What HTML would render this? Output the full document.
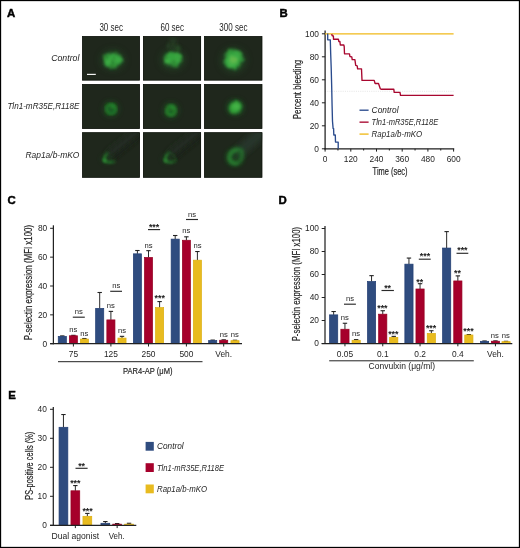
<!DOCTYPE html>
<html><head><meta charset="utf-8"><style>
html,body{margin:0;padding:0;background:#fff;width:520px;height:548px;overflow:hidden;}
svg{display:block;will-change:transform;}
text{font-family:"Liberation Sans",sans-serif;}
</style></head><body>
<svg width="520" height="548" viewBox="0 0 520 548" font-family="Liberation Sans">
<defs>
<filter id="f0" x="-60%" y="-60%" width="220%" height="220%"><feGaussianBlur stdDeviation="0.6"/></filter>
<filter id="f1" x="-60%" y="-60%" width="220%" height="220%"><feGaussianBlur stdDeviation="1.0"/></filter>
<filter id="f2" x="-60%" y="-60%" width="220%" height="220%"><feGaussianBlur stdDeviation="1.6"/></filter>
<filter id="f3" x="-60%" y="-60%" width="220%" height="220%"><feGaussianBlur stdDeviation="2.4"/></filter>
<filter id="f4" x="-60%" y="-60%" width="220%" height="220%"><feGaussianBlur stdDeviation="3.6"/></filter>
</defs>
<rect x="0" y="0" width="520" height="548" fill="#fff"/>
<text x="7.00" y="17.00" font-size="11.4" text-anchor="start" font-weight="bold" font-style="normal" fill="#000" stroke="#000" stroke-width="0.45">A</text>
<text x="279.40" y="17.00" font-size="11.4" text-anchor="start" font-weight="bold" font-style="normal" fill="#000" stroke="#000" stroke-width="0.45">B</text>
<text x="7.40" y="203.80" font-size="11.4" text-anchor="start" font-weight="bold" font-style="normal" fill="#000" stroke="#000" stroke-width="0.45">C</text>
<text x="278.40" y="203.80" font-size="11.4" text-anchor="start" font-weight="bold" font-style="normal" fill="#000" stroke="#000" stroke-width="0.45">D</text>
<text x="8.30" y="399.00" font-size="11.4" text-anchor="start" font-weight="bold" font-style="normal" fill="#000" stroke="#000" stroke-width="0.45">E</text>
<text x="111.20" y="30.70" font-size="10.3" text-anchor="middle" font-weight="normal" font-style="normal" fill="#1e1e1e" textLength="23.6" lengthAdjust="spacingAndGlyphs" >30 sec</text>
<text x="172.25" y="30.70" font-size="10.3" text-anchor="middle" font-weight="normal" font-style="normal" fill="#1e1e1e" textLength="23.6" lengthAdjust="spacingAndGlyphs" >60 sec</text>
<text x="233.40" y="30.70" font-size="10.3" text-anchor="middle" font-weight="normal" font-style="normal" fill="#1e1e1e" textLength="28.2" lengthAdjust="spacingAndGlyphs" >300 sec</text>
<text x="79.40" y="61.00" font-size="8.8" text-anchor="end" font-weight="normal" font-style="italic" fill="#1e1e1e" textLength="28.2" lengthAdjust="spacingAndGlyphs" >Control</text>
<text x="79.40" y="109.00" font-size="8.8" text-anchor="end" font-weight="normal" font-style="italic" fill="#1e1e1e" textLength="72" lengthAdjust="spacingAndGlyphs" >Tln1-mR35E,R118E</text>
<text x="79.40" y="157.50" font-size="8.8" text-anchor="end" font-weight="normal" font-style="italic" fill="#1e1e1e" textLength="54" lengthAdjust="spacingAndGlyphs" >Rap1a/b-mKO</text>
<defs>
<clipPath id="c0"><rect x="82.2" y="36.2" width="57.60" height="44.20"/></clipPath>
<clipPath id="c1"><rect x="82.2" y="84.2" width="57.60" height="44.60"/></clipPath>
<clipPath id="c2"><rect x="82.2" y="132.4" width="57.60" height="45.20"/></clipPath>
<clipPath id="c3"><rect x="143.1" y="36.2" width="57.90" height="44.20"/></clipPath>
<clipPath id="c4"><rect x="143.1" y="84.2" width="57.90" height="44.60"/></clipPath>
<clipPath id="c5"><rect x="143.1" y="132.4" width="57.90" height="45.20"/></clipPath>
<clipPath id="c6"><rect x="204.2" y="36.2" width="58.00" height="44.20"/></clipPath>
<clipPath id="c7"><rect x="204.2" y="84.2" width="58.00" height="44.60"/></clipPath>
<clipPath id="c8"><rect x="204.2" y="132.4" width="58.00" height="45.20"/></clipPath>
</defs>
<rect x="82.2" y="36.2" width="57.60" height="44.20" fill="#1f271c"/>
<rect x="82.2" y="84.2" width="57.60" height="44.60" fill="#1f271c"/>
<rect x="82.2" y="132.4" width="57.60" height="45.20" fill="#1f271c"/>
<rect x="143.1" y="36.2" width="57.90" height="44.20" fill="#1f271c"/>
<rect x="143.1" y="84.2" width="57.90" height="44.60" fill="#1f271c"/>
<rect x="143.1" y="132.4" width="57.90" height="45.20" fill="#1f271c"/>
<rect x="204.2" y="36.2" width="58.00" height="44.20" fill="#1f271c"/>
<rect x="204.2" y="84.2" width="58.00" height="44.60" fill="#1f271c"/>
<rect x="204.2" y="132.4" width="58.00" height="45.20" fill="#1f271c"/>
<defs>
<filter id="r0" x="-30%" y="-30%" width="160%" height="160%"><feTurbulence type="fractalNoise" baseFrequency="0.14" numOctaves="2" seed="3" result="n"/><feDisplacementMap in="SourceGraphic" in2="n" scale="5" xChannelSelector="R" yChannelSelector="G"/><feGaussianBlur stdDeviation="0.9"/></filter>
<filter id="r1" x="-30%" y="-30%" width="160%" height="160%"><feTurbulence type="fractalNoise" baseFrequency="0.15" numOctaves="2" seed="7" result="n"/><feDisplacementMap in="SourceGraphic" in2="n" scale="5" xChannelSelector="R" yChannelSelector="G"/><feGaussianBlur stdDeviation="0.9"/></filter>
<filter id="r2" x="-30%" y="-30%" width="160%" height="160%"><feTurbulence type="fractalNoise" baseFrequency="0.13" numOctaves="2" seed="11" result="n"/><feDisplacementMap in="SourceGraphic" in2="n" scale="5" xChannelSelector="R" yChannelSelector="G"/><feGaussianBlur stdDeviation="0.9"/></filter>
<filter id="r3" x="-30%" y="-30%" width="160%" height="160%"><feTurbulence type="fractalNoise" baseFrequency="0.18" numOctaves="2" seed="5" result="n"/><feDisplacementMap in="SourceGraphic" in2="n" scale="2.5" xChannelSelector="R" yChannelSelector="G"/><feGaussianBlur stdDeviation="0.9"/></filter>
</defs>
<g clip-path="url(#c0)"><g><ellipse cx="112.7" cy="60.0" rx="12" ry="10" fill="#25582a" opacity="0.5" filter="url(#f4)"/></g></g>
<g clip-path="url(#c0)"><g filter="url(#r0)"><ellipse cx="112.5" cy="59.8" rx="9.4" ry="7.6" fill="#309238" opacity="1" filter="url(#f1)"/><ellipse cx="109.5" cy="61.8" rx="5.0" ry="4.8" fill="#3cae44" opacity="0.9" filter="url(#f1)"/><ellipse cx="116.5" cy="58.8" rx="4.6" ry="4.8" fill="#3aa942" opacity="0.9" filter="url(#f1)"/><ellipse cx="112" cy="55.5" rx="4" ry="3" fill="#37a53f" opacity="0.8" filter="url(#f1)"/><ellipse cx="112.3" cy="63.5" rx="1.6" ry="3.5" fill="#226a28" opacity="0.6" filter="url(#f1)"/><ellipse cx="114" cy="58" rx="1.5" ry="1.5" fill="#26722c" opacity="0.5" filter="url(#f0)"/><ellipse cx="107" cy="57" rx="1.3" ry="1.3" fill="#24702a" opacity="0.5" filter="url(#f0)"/><ellipse cx="118" cy="63" rx="1.5" ry="1.2" fill="#24702a" opacity="0.5" filter="url(#f0)"/></g></g>
<g clip-path="url(#c3)"><g><ellipse cx="172.9" cy="59.6" rx="12" ry="10" fill="#25582a" opacity="0.5" filter="url(#f4)"/><ellipse cx="173" cy="44" rx="3" ry="9" fill="#2b4a29" opacity="0.7" filter="url(#f3)"/><ellipse cx="178" cy="49" rx="2.5" ry="4" fill="#2c5a2b" opacity="0.6" filter="url(#f2)"/><ellipse cx="168" cy="46" rx="1.5" ry="3" fill="#2b4e29" opacity="0.6" filter="url(#f2)"/></g></g>
<g clip-path="url(#c3)"><g filter="url(#r1)"><ellipse cx="172.6" cy="59.4" rx="9.6" ry="7.2" fill="#309238" opacity="1" filter="url(#f1)"/><ellipse cx="169.5" cy="60.6" rx="5.0" ry="4.4" fill="#3cae44" opacity="0.9" filter="url(#f1)"/><ellipse cx="176.5" cy="58" rx="4.4" ry="4.4" fill="#3aa942" opacity="0.9" filter="url(#f1)"/><ellipse cx="172" cy="55" rx="3.5" ry="2.5" fill="#37a53f" opacity="0.8" filter="url(#f1)"/><ellipse cx="173" cy="62" rx="1.5" ry="2.6" fill="#226a28" opacity="0.5" filter="url(#f1)"/><ellipse cx="167" cy="58" rx="1.2" ry="1.5" fill="#24702a" opacity="0.5" filter="url(#f0)"/></g></g>
<g clip-path="url(#c6)"><g><ellipse cx="233.5" cy="60.2" rx="12.5" ry="12" fill="#25582a" opacity="0.5" filter="url(#f4)"/></g></g>
<g clip-path="url(#c6)"><g filter="url(#r2)"><ellipse cx="233.5" cy="59.3" rx="9.8" ry="9.8" fill="#33993b" opacity="1" filter="url(#f1)"/><ellipse cx="232.5" cy="60" rx="6.0" ry="6.2" fill="#44b44a" opacity="0.9" filter="url(#f1)"/><ellipse cx="236" cy="55.5" rx="4" ry="4" fill="#3fae46" opacity="0.8" filter="url(#f1)"/><ellipse cx="233.5" cy="59.5" rx="3.6" ry="3.6" fill="#72bc50" opacity="0.7" filter="url(#f1)"/></g></g>
<g clip-path="url(#c1)"><g><ellipse cx="111" cy="109" rx="8.2" ry="8" fill="#1e5423" opacity="0.6" filter="url(#f3)"/></g></g>
<g clip-path="url(#c1)"><g filter="url(#r3)"><circle cx="111" cy="109" r="4.3" fill="none" stroke="#23812b" stroke-width="3.2" filter="url(#f1)"/><ellipse cx="111" cy="109" rx="2.6" ry="2.6" fill="#1f6425" opacity="0.9" filter="url(#f1)"/><ellipse cx="112.8" cy="106.5" rx="2.2" ry="1.8" fill="#2a9532" opacity="0.7" filter="url(#f1)"/></g></g>
<g clip-path="url(#c4)"><g><ellipse cx="171" cy="110.4" rx="8.2" ry="8.2" fill="#1e5423" opacity="0.6" filter="url(#f3)"/></g></g>
<g clip-path="url(#c4)"><g filter="url(#r3)"><ellipse cx="171" cy="110.4" rx="4.1" ry="4.5" fill="none" stroke="#258a2d" stroke-width="3.2" filter="url(#f1)"/><ellipse cx="171.3" cy="110.3" rx="2.4" ry="2.8" fill="#216a27" opacity="0.85" filter="url(#f1)"/><ellipse cx="172.5" cy="108" rx="2.2" ry="1.8" fill="#2d9a35" opacity="0.7" filter="url(#f1)"/></g></g>
<g clip-path="url(#c7)"><g><ellipse cx="235.3" cy="107.4" rx="8.8" ry="8.2" fill="#1e5423" opacity="0.7" filter="url(#f3)"/></g></g>
<g clip-path="url(#c7)"><g filter="url(#r3)"><ellipse cx="235.3" cy="107.4" rx="6.8" ry="5.8" fill="#31a139" opacity="1" filter="url(#f1)" transform="rotate(-40 235.3 107.4)"/><ellipse cx="236" cy="106.5" rx="3.8" ry="3.2" fill="#4cb84c" opacity="0.8" filter="url(#f1)"/></g></g>
<g clip-path="url(#c2)"><line x1="110" y1="154" x2="150" y2="122" stroke="#232c20" stroke-width="9" stroke-linecap="round" filter="url(#f3)" opacity="1"/></g>
<g clip-path="url(#c2)"><line x1="114" y1="158" x2="150" y2="129" stroke="#1a2118" stroke-width="4" stroke-linecap="round" filter="url(#f2)" opacity="0.8"/></g>
<g clip-path="url(#c5)"><line x1="171" y1="154" x2="211" y2="122" stroke="#232c20" stroke-width="9" stroke-linecap="round" filter="url(#f3)" opacity="1"/></g>
<g clip-path="url(#c5)"><line x1="175" y1="158" x2="211" y2="129" stroke="#1a2118" stroke-width="4" stroke-linecap="round" filter="url(#f2)" opacity="0.8"/></g>
<g clip-path="url(#c8)"><line x1="238" y1="153" x2="276" y2="120" stroke="#28362a" stroke-width="12" stroke-linecap="round" filter="url(#f3)" opacity="1"/></g>
<g opacity="0.82">
<g clip-path="url(#c2)"><g><ellipse cx="107" cy="159" rx="6" ry="5" fill="#1e4a21" opacity="0.5" filter="url(#f3)"/><path d="M107.6,152.8 Q103.2,157.5 104.2,160.6 Q106.5,163.2 114.6,161.8" fill="none" stroke="#247d2c" stroke-width="1.9" stroke-linecap="round" stroke-linejoin="round" filter="url(#f2)" opacity="1"/><path d="M106,155 Q103.5,158 104.4,160.8 Q107,162.8 111,162.3" fill="none" stroke="#2b8f33" stroke-width="1.4" stroke-linecap="round" stroke-linejoin="round" filter="url(#f1)" opacity="0.7"/><ellipse cx="104.8" cy="160.4" rx="2.0" ry="2.2" fill="#32a03a" opacity="0.8" filter="url(#f1)"/></g></g>
<g clip-path="url(#c5)"><g><ellipse cx="168" cy="159" rx="6" ry="5" fill="#1e4a21" opacity="0.5" filter="url(#f3)"/><path d="M168.8,152.4 Q164.2,157.5 165.2,160.8 Q167.5,163.3 175.8,161.2" fill="none" stroke="#247d2c" stroke-width="1.9" stroke-linecap="round" stroke-linejoin="round" filter="url(#f2)" opacity="1"/><path d="M167.2,154.5 Q164.5,158 165.4,161 Q168,163 172,162.6" fill="none" stroke="#2b8f33" stroke-width="1.4" stroke-linecap="round" stroke-linejoin="round" filter="url(#f1)" opacity="0.7"/><path d="M168.8,152.4 Q174,153.5 176,160" fill="none" stroke="#24642a" stroke-width="1.3" stroke-linecap="round" stroke-linejoin="round" filter="url(#f1)" opacity="0.6"/><ellipse cx="165.8" cy="160.4" rx="2.0" ry="2.2" fill="#309a38" opacity="0.7" filter="url(#f1)"/></g></g>
<g clip-path="url(#c8)"><g><ellipse cx="234.5" cy="157.5" rx="8.5" ry="8" fill="#1f5223" opacity="0.6" filter="url(#f3)"/><path d="M241.5,150.5 C236,147.8 228.6,151 229,157.6 C229.4,163 234.4,164.8 238.2,162.8 C241.6,160.8 242.6,155.5 241.5,150.5 Z" fill="none" stroke="#247a2b" stroke-width="3.4" stroke-linecap="round" stroke-linejoin="round" filter="url(#f3)" opacity="0.9"/><path d="M241.5,150.5 C236,147.8 228.6,151 229,157.6 C229.4,163 234.4,164.8 238.2,162.8 C241.6,160.8 242.6,155.5 241.5,150.5 Z" fill="none" stroke="#278230" stroke-width="2.4" stroke-linecap="round" stroke-linejoin="round" filter="url(#f2)" opacity="0.8"/><path d="M236.5,150.3 Q230.2,151.5 229.6,158 Q230.4,163.6 236.8,163.4" fill="none" stroke="#2f9637" stroke-width="2.4" stroke-linecap="round" stroke-linejoin="round" filter="url(#f2)" opacity="0.8"/><ellipse cx="236.2" cy="156.8" rx="2.8" ry="3.0" fill="#213621" opacity="0.5" filter="url(#f2)"/></g></g>
</g>
<rect x="82.5" y="36.5" width="57.00" height="43.60" fill="none" stroke="#10150f" stroke-width="0.7"/>
<rect x="82.5" y="84.5" width="57.00" height="44.00" fill="none" stroke="#10150f" stroke-width="0.7"/>
<rect x="82.5" y="132.70000000000002" width="57.00" height="44.60" fill="none" stroke="#10150f" stroke-width="0.7"/>
<rect x="143.4" y="36.5" width="57.30" height="43.60" fill="none" stroke="#10150f" stroke-width="0.7"/>
<rect x="143.4" y="84.5" width="57.30" height="44.00" fill="none" stroke="#10150f" stroke-width="0.7"/>
<rect x="143.4" y="132.70000000000002" width="57.30" height="44.60" fill="none" stroke="#10150f" stroke-width="0.7"/>
<rect x="204.5" y="36.5" width="57.40" height="43.60" fill="none" stroke="#10150f" stroke-width="0.7"/>
<rect x="204.5" y="84.5" width="57.40" height="44.00" fill="none" stroke="#10150f" stroke-width="0.7"/>
<rect x="204.5" y="132.70000000000002" width="57.40" height="44.60" fill="none" stroke="#10150f" stroke-width="0.7"/>
<line x1="87.00" y1="74.40" x2="95.80" y2="74.40" stroke="#f2f2f2" stroke-width="1.2" />
<line x1="325.1" y1="91.30" x2="453.60" y2="91.30" stroke="#d4d4d4" stroke-width="0.6" stroke-dasharray="1 1.2"/>
<line x1="325.10" y1="30.40" x2="325.10" y2="149.40" stroke="#1e1e1e" stroke-width="1.25" />
<line x1="324.50" y1="148.80" x2="454.20" y2="148.80" stroke="#1e1e1e" stroke-width="1.25" />
<line x1="321.90" y1="148.80" x2="325.10" y2="148.80" stroke="#1e1e1e" stroke-width="1" />
<text x="319.00" y="151.60" font-size="9.4" text-anchor="end" font-weight="normal" font-style="normal" fill="#1e1e1e" textLength="4.65" lengthAdjust="spacingAndGlyphs" >0</text>
<line x1="321.90" y1="125.80" x2="325.10" y2="125.80" stroke="#1e1e1e" stroke-width="1" />
<text x="319.00" y="128.60" font-size="9.4" text-anchor="end" font-weight="normal" font-style="normal" fill="#1e1e1e" textLength="9.3" lengthAdjust="spacingAndGlyphs" >20</text>
<line x1="321.90" y1="102.80" x2="325.10" y2="102.80" stroke="#1e1e1e" stroke-width="1" />
<text x="319.00" y="105.60" font-size="9.4" text-anchor="end" font-weight="normal" font-style="normal" fill="#1e1e1e" textLength="9.3" lengthAdjust="spacingAndGlyphs" >40</text>
<line x1="321.90" y1="79.80" x2="325.10" y2="79.80" stroke="#1e1e1e" stroke-width="1" />
<text x="319.00" y="82.60" font-size="9.4" text-anchor="end" font-weight="normal" font-style="normal" fill="#1e1e1e" textLength="9.3" lengthAdjust="spacingAndGlyphs" >60</text>
<line x1="321.90" y1="56.80" x2="325.10" y2="56.80" stroke="#1e1e1e" stroke-width="1" />
<text x="319.00" y="59.60" font-size="9.4" text-anchor="end" font-weight="normal" font-style="normal" fill="#1e1e1e" textLength="9.3" lengthAdjust="spacingAndGlyphs" >80</text>
<line x1="321.90" y1="33.80" x2="325.10" y2="33.80" stroke="#1e1e1e" stroke-width="1" />
<text x="319.00" y="36.60" font-size="9.4" text-anchor="end" font-weight="normal" font-style="normal" fill="#1e1e1e" textLength="13.95" lengthAdjust="spacingAndGlyphs" >100</text>
<line x1="325.10" y1="148.80" x2="325.10" y2="151.60" stroke="#1e1e1e" stroke-width="1" />
<text x="325.10" y="161.80" font-size="9.4" text-anchor="middle" font-weight="normal" font-style="normal" fill="#1e1e1e" textLength="4.65" lengthAdjust="spacingAndGlyphs" >0</text>
<line x1="337.95" y1="148.80" x2="337.95" y2="150.50" stroke="#1e1e1e" stroke-width="1" />
<line x1="350.80" y1="148.80" x2="350.80" y2="151.60" stroke="#1e1e1e" stroke-width="1" />
<text x="350.80" y="161.80" font-size="9.4" text-anchor="middle" font-weight="normal" font-style="normal" fill="#1e1e1e" textLength="13.95" lengthAdjust="spacingAndGlyphs" >120</text>
<line x1="363.65" y1="148.80" x2="363.65" y2="150.50" stroke="#1e1e1e" stroke-width="1" />
<line x1="376.50" y1="148.80" x2="376.50" y2="151.60" stroke="#1e1e1e" stroke-width="1" />
<text x="376.50" y="161.80" font-size="9.4" text-anchor="middle" font-weight="normal" font-style="normal" fill="#1e1e1e" textLength="13.95" lengthAdjust="spacingAndGlyphs" >240</text>
<line x1="389.35" y1="148.80" x2="389.35" y2="150.50" stroke="#1e1e1e" stroke-width="1" />
<line x1="402.20" y1="148.80" x2="402.20" y2="151.60" stroke="#1e1e1e" stroke-width="1" />
<text x="402.20" y="161.80" font-size="9.4" text-anchor="middle" font-weight="normal" font-style="normal" fill="#1e1e1e" textLength="13.95" lengthAdjust="spacingAndGlyphs" >360</text>
<line x1="415.05" y1="148.80" x2="415.05" y2="150.50" stroke="#1e1e1e" stroke-width="1" />
<line x1="427.90" y1="148.80" x2="427.90" y2="151.60" stroke="#1e1e1e" stroke-width="1" />
<text x="427.90" y="161.80" font-size="9.4" text-anchor="middle" font-weight="normal" font-style="normal" fill="#1e1e1e" textLength="13.95" lengthAdjust="spacingAndGlyphs" >480</text>
<line x1="440.75" y1="148.80" x2="440.75" y2="150.50" stroke="#1e1e1e" stroke-width="1" />
<line x1="453.60" y1="148.80" x2="453.60" y2="151.60" stroke="#1e1e1e" stroke-width="1" />
<text x="453.60" y="161.80" font-size="9.4" text-anchor="middle" font-weight="normal" font-style="normal" fill="#1e1e1e" textLength="13.95" lengthAdjust="spacingAndGlyphs" >600</text>
<text x="390.10" y="175.40" font-size="10.0" text-anchor="middle" font-weight="normal" font-style="normal" fill="#1e1e1e" textLength="35" lengthAdjust="spacingAndGlyphs" stroke="#1e1e1e" stroke-width="0.18">Time (sec)</text>
<g transform="translate(300.6,89.5) rotate(-90)"><text x="0.00" y="0.00" font-size="10.4" text-anchor="middle" font-weight="normal" font-style="normal" fill="#1e1e1e" textLength="59.5" lengthAdjust="spacingAndGlyphs" stroke="#1e1e1e" stroke-width="0.18">Percent bleeding</text></g>
<polyline points="325.1,33.80 453.6,33.80" fill="none" stroke="#f0b91a" stroke-width="1.35"/>
<polyline points="331.7,34.0 332.2,35.8 333.4,35.8 333.5,39.2 338.4,39.2 338.8,41.5 339.9,41.5 340.3,45.0 343.8,45.0 344.2,46.5 344.5,53.8 349.5,53.8 349.9,56.5 351.8,56.9 352.2,59.6 354.9,59.6 355.7,65.4 357.2,65.8 357.6,68.8 361.5,68.8 362.0,80.4 374.2,80.4 375.1,83.5 378.5,83.5 380.3,88.8 381.2,89.2 393.8,89.2 394.2,92.3 400.0,92.3 400.5,95.4 453.6,95.4" fill="none" stroke="#a8072f" stroke-width="1.35" stroke-linejoin="round"/>
<polyline points="327.7,33.6 327.7,39.8 330.3,39.8 330.7,53.9 331.2,67.9 331.7,87.1 332.1,106 332.5,121.3 333.1,128.4 333.6,128.4 333.8,135 335.3,135 335.5,142.1 338.2,142.1 338.2,148.7" fill="none" stroke="#2a4b8d" stroke-width="1.35" stroke-linejoin="round"/>
<line x1="359.50" y1="110.20" x2="368.60" y2="110.20" stroke="#2a4b8d" stroke-width="1.35" />
<text x="371.60" y="113.10" font-size="8.6" text-anchor="start" font-weight="normal" font-style="italic" fill="#1e1e1e" textLength="27" lengthAdjust="spacingAndGlyphs" >Control</text>
<line x1="359.50" y1="122.15" x2="368.60" y2="122.15" stroke="#a8072f" stroke-width="1.35" />
<text x="371.60" y="125.05" font-size="8.6" text-anchor="start" font-weight="normal" font-style="italic" fill="#1e1e1e" textLength="66.6" lengthAdjust="spacingAndGlyphs" >Tln1-mR35E,R118E</text>
<line x1="359.50" y1="134.10" x2="368.60" y2="134.10" stroke="#f0b91a" stroke-width="1.35" />
<text x="371.60" y="137.00" font-size="8.6" text-anchor="start" font-weight="normal" font-style="italic" fill="#1e1e1e" textLength="50.6" lengthAdjust="spacingAndGlyphs" >Rap1a/b-mKO</text>
<line x1="62.30" y1="336.34" x2="62.30" y2="335.91" stroke="#2a2a2a" stroke-width="1.0" />
<line x1="60.10" y1="335.91" x2="64.50" y2="335.91" stroke="#222" stroke-width="1.1" />
<rect x="58.25" y="336.34" width="8.10" height="7.36" fill="#2f4c7f" stroke="#213d72" stroke-width="0.7"/>
<line x1="73.40" y1="335.77" x2="73.40" y2="335.33" stroke="#2a2a2a" stroke-width="1.0" />
<line x1="71.20" y1="335.33" x2="75.60" y2="335.33" stroke="#222" stroke-width="1.1" />
<rect x="69.35" y="335.77" width="8.10" height="7.93" fill="#a6002b" stroke="#950021" stroke-width="0.7"/>
<line x1="84.40" y1="339.08" x2="84.40" y2="338.51" stroke="#2a2a2a" stroke-width="1.0" />
<line x1="82.20" y1="338.51" x2="86.60" y2="338.51" stroke="#222" stroke-width="1.1" />
<rect x="80.35" y="339.08" width="8.10" height="4.62" fill="#e8bb1f" stroke="#dcae10" stroke-width="0.7"/>
<line x1="99.70" y1="308.36" x2="99.70" y2="292.49" stroke="#2a2a2a" stroke-width="1.0" />
<line x1="97.50" y1="292.49" x2="101.90" y2="292.49" stroke="#222" stroke-width="1.1" />
<rect x="95.65" y="308.36" width="8.10" height="35.34" fill="#2f4c7f" stroke="#213d72" stroke-width="0.7"/>
<line x1="110.90" y1="319.90" x2="110.90" y2="311.39" stroke="#2a2a2a" stroke-width="1.0" />
<line x1="108.70" y1="311.39" x2="113.10" y2="311.39" stroke="#222" stroke-width="1.1" />
<rect x="106.85" y="319.90" width="8.10" height="23.80" fill="#a6002b" stroke="#950021" stroke-width="0.7"/>
<line x1="122.00" y1="338.07" x2="122.00" y2="336.34" stroke="#2a2a2a" stroke-width="1.0" />
<line x1="119.80" y1="336.34" x2="124.20" y2="336.34" stroke="#222" stroke-width="1.1" />
<rect x="117.95" y="338.07" width="8.10" height="5.63" fill="#e8bb1f" stroke="#dcae10" stroke-width="0.7"/>
<line x1="137.40" y1="253.83" x2="137.40" y2="250.51" stroke="#2a2a2a" stroke-width="1.0" />
<line x1="135.20" y1="250.51" x2="139.60" y2="250.51" stroke="#222" stroke-width="1.1" />
<rect x="133.35" y="253.83" width="8.10" height="89.87" fill="#2f4c7f" stroke="#213d72" stroke-width="0.7"/>
<line x1="148.50" y1="257.44" x2="148.50" y2="250.66" stroke="#2a2a2a" stroke-width="1.0" />
<line x1="146.30" y1="250.66" x2="150.70" y2="250.66" stroke="#222" stroke-width="1.1" />
<rect x="144.45" y="257.44" width="8.10" height="86.26" fill="#a6002b" stroke="#950021" stroke-width="0.7"/>
<line x1="159.60" y1="307.64" x2="159.60" y2="301.58" stroke="#2a2a2a" stroke-width="1.0" />
<line x1="157.40" y1="301.58" x2="161.80" y2="301.58" stroke="#222" stroke-width="1.1" />
<rect x="155.55" y="307.64" width="8.10" height="36.06" fill="#e8bb1f" stroke="#dcae10" stroke-width="0.7"/>
<line x1="175.20" y1="239.12" x2="175.20" y2="235.51" stroke="#2a2a2a" stroke-width="1.0" />
<line x1="173.00" y1="235.51" x2="177.40" y2="235.51" stroke="#222" stroke-width="1.1" />
<rect x="171.15" y="239.12" width="8.10" height="104.58" fill="#2f4c7f" stroke="#213d72" stroke-width="0.7"/>
<line x1="186.40" y1="240.27" x2="186.40" y2="236.81" stroke="#2a2a2a" stroke-width="1.0" />
<line x1="184.20" y1="236.81" x2="188.60" y2="236.81" stroke="#222" stroke-width="1.1" />
<rect x="182.35" y="240.27" width="8.10" height="103.43" fill="#a6002b" stroke="#950021" stroke-width="0.7"/>
<line x1="197.40" y1="260.18" x2="197.40" y2="251.52" stroke="#2a2a2a" stroke-width="1.0" />
<line x1="195.20" y1="251.52" x2="199.60" y2="251.52" stroke="#222" stroke-width="1.1" />
<rect x="193.35" y="260.18" width="8.10" height="83.52" fill="#e8bb1f" stroke="#dcae10" stroke-width="0.7"/>
<line x1="212.70" y1="340.53" x2="212.70" y2="340.09" stroke="#2a2a2a" stroke-width="1.0" />
<line x1="210.50" y1="340.09" x2="214.90" y2="340.09" stroke="#222" stroke-width="1.1" />
<rect x="208.65" y="340.53" width="8.10" height="3.17" fill="#2f4c7f" stroke="#213d72" stroke-width="0.7"/>
<line x1="223.70" y1="340.24" x2="223.70" y2="339.81" stroke="#2a2a2a" stroke-width="1.0" />
<line x1="221.50" y1="339.81" x2="225.90" y2="339.81" stroke="#222" stroke-width="1.1" />
<rect x="219.65" y="340.24" width="8.10" height="3.46" fill="#a6002b" stroke="#950021" stroke-width="0.7"/>
<line x1="235.00" y1="340.67" x2="235.00" y2="340.24" stroke="#2a2a2a" stroke-width="1.0" />
<line x1="232.80" y1="340.24" x2="237.20" y2="340.24" stroke="#222" stroke-width="1.1" />
<rect x="230.95" y="340.67" width="8.10" height="3.03" fill="#e8bb1f" stroke="#dcae10" stroke-width="0.7"/>
<line x1="53.40" y1="225.30" x2="53.40" y2="344.30" stroke="#222" stroke-width="1.25" />
<line x1="50.10" y1="343.70" x2="242.00" y2="343.70" stroke="#222" stroke-width="1.25" />
<line x1="50.10" y1="343.70" x2="53.40" y2="343.70" stroke="#222" stroke-width="1" />
<text x="47.20" y="346.50" font-size="9.4" text-anchor="end" font-weight="normal" font-style="normal" fill="#1e1e1e" textLength="4.65" lengthAdjust="spacingAndGlyphs" >0</text>
<line x1="50.10" y1="314.85" x2="53.40" y2="314.85" stroke="#222" stroke-width="1" />
<text x="47.20" y="317.65" font-size="9.4" text-anchor="end" font-weight="normal" font-style="normal" fill="#1e1e1e" textLength="9.3" lengthAdjust="spacingAndGlyphs" >20</text>
<line x1="50.10" y1="286.00" x2="53.40" y2="286.00" stroke="#222" stroke-width="1" />
<text x="47.20" y="288.80" font-size="9.4" text-anchor="end" font-weight="normal" font-style="normal" fill="#1e1e1e" textLength="9.3" lengthAdjust="spacingAndGlyphs" >40</text>
<line x1="50.10" y1="257.15" x2="53.40" y2="257.15" stroke="#222" stroke-width="1" />
<text x="47.20" y="259.95" font-size="9.4" text-anchor="end" font-weight="normal" font-style="normal" fill="#1e1e1e" textLength="9.3" lengthAdjust="spacingAndGlyphs" >60</text>
<line x1="50.10" y1="228.30" x2="53.40" y2="228.30" stroke="#222" stroke-width="1" />
<text x="47.20" y="231.10" font-size="9.4" text-anchor="end" font-weight="normal" font-style="normal" fill="#1e1e1e" textLength="9.3" lengthAdjust="spacingAndGlyphs" >80</text>
<line x1="73.40" y1="343.70" x2="73.40" y2="346.50" stroke="#222" stroke-width="1" />
<text x="73.40" y="357.20" font-size="8.4" text-anchor="middle" font-weight="normal" font-style="normal" fill="#1e1e1e" >75</text>
<line x1="110.90" y1="343.70" x2="110.90" y2="346.50" stroke="#222" stroke-width="1" />
<text x="110.90" y="357.20" font-size="8.4" text-anchor="middle" font-weight="normal" font-style="normal" fill="#1e1e1e" >125</text>
<line x1="148.50" y1="343.70" x2="148.50" y2="346.50" stroke="#222" stroke-width="1" />
<text x="148.50" y="357.20" font-size="8.4" text-anchor="middle" font-weight="normal" font-style="normal" fill="#1e1e1e" >250</text>
<line x1="186.40" y1="343.70" x2="186.40" y2="346.50" stroke="#222" stroke-width="1" />
<text x="186.40" y="357.20" font-size="8.4" text-anchor="middle" font-weight="normal" font-style="normal" fill="#1e1e1e" >500</text>
<line x1="223.70" y1="343.70" x2="223.70" y2="346.50" stroke="#222" stroke-width="1" />
<text x="223.70" y="357.20" font-size="8.4" text-anchor="middle" font-weight="normal" font-style="normal" fill="#1e1e1e" >Veh.</text>
<line x1="58.00" y1="361.70" x2="202.50" y2="361.70" stroke="#222" stroke-width="1.0" />
<text x="147.80" y="373.60" font-size="9.5" text-anchor="middle" font-weight="normal" font-style="normal" fill="#1e1e1e" textLength="49.5" lengthAdjust="spacingAndGlyphs" stroke="#1e1e1e" stroke-width="0.18">PAR4-AP (μM)</text>
<g transform="translate(32.1,282.6) rotate(-90)"><text x="0.00" y="0.00" font-size="10.4" text-anchor="middle" font-weight="normal" font-style="normal" fill="#1e1e1e" textLength="115.4" lengthAdjust="spacingAndGlyphs" stroke="#1e1e1e" stroke-width="0.18">P-selectin expression (MFI x100)</text></g>
<line x1="333.65" y1="314.87" x2="333.65" y2="311.53" stroke="#2a2a2a" stroke-width="1.0" />
<line x1="331.45" y1="311.53" x2="335.85" y2="311.53" stroke="#222" stroke-width="1.1" />
<rect x="329.55" y="314.87" width="8.20" height="28.63" fill="#2f4c7f" stroke="#213d72" stroke-width="0.7"/>
<line x1="344.95" y1="329.24" x2="344.95" y2="323.26" stroke="#2a2a2a" stroke-width="1.0" />
<line x1="342.75" y1="323.26" x2="347.15" y2="323.26" stroke="#222" stroke-width="1.1" />
<rect x="340.85" y="329.24" width="8.20" height="14.26" fill="#a6002b" stroke="#950021" stroke-width="0.7"/>
<line x1="356.15" y1="340.28" x2="356.15" y2="339.59" stroke="#2a2a2a" stroke-width="1.0" />
<line x1="353.95" y1="339.59" x2="358.35" y2="339.59" stroke="#222" stroke-width="1.1" />
<rect x="352.05" y="340.28" width="8.20" height="3.22" fill="#e8bb1f" stroke="#dcae10" stroke-width="0.7"/>
<line x1="371.55" y1="281.51" x2="371.55" y2="275.65" stroke="#2a2a2a" stroke-width="1.0" />
<line x1="369.35" y1="275.65" x2="373.75" y2="275.65" stroke="#222" stroke-width="1.1" />
<rect x="367.45" y="281.51" width="8.20" height="61.99" fill="#2f4c7f" stroke="#213d72" stroke-width="0.7"/>
<line x1="382.75" y1="314.18" x2="382.75" y2="310.73" stroke="#2a2a2a" stroke-width="1.0" />
<line x1="380.55" y1="310.73" x2="384.95" y2="310.73" stroke="#222" stroke-width="1.1" />
<rect x="378.65" y="314.18" width="8.20" height="29.32" fill="#a6002b" stroke="#950021" stroke-width="0.7"/>
<line x1="393.75" y1="337.40" x2="393.75" y2="336.37" stroke="#2a2a2a" stroke-width="1.0" />
<line x1="391.55" y1="336.37" x2="395.95" y2="336.37" stroke="#222" stroke-width="1.1" />
<rect x="389.65" y="337.40" width="8.20" height="6.10" fill="#e8bb1f" stroke="#dcae10" stroke-width="0.7"/>
<line x1="408.95" y1="264.15" x2="408.95" y2="258.06" stroke="#2a2a2a" stroke-width="1.0" />
<line x1="406.75" y1="258.06" x2="411.15" y2="258.06" stroke="#222" stroke-width="1.1" />
<rect x="404.85" y="264.15" width="8.20" height="79.35" fill="#2f4c7f" stroke="#213d72" stroke-width="0.7"/>
<line x1="420.05" y1="288.99" x2="420.05" y2="283.70" stroke="#2a2a2a" stroke-width="1.0" />
<line x1="417.85" y1="283.70" x2="422.25" y2="283.70" stroke="#222" stroke-width="1.1" />
<rect x="415.95" y="288.99" width="8.20" height="54.51" fill="#a6002b" stroke="#950021" stroke-width="0.7"/>
<line x1="431.35" y1="333.38" x2="431.35" y2="330.74" stroke="#2a2a2a" stroke-width="1.0" />
<line x1="429.15" y1="330.74" x2="433.55" y2="330.74" stroke="#222" stroke-width="1.1" />
<rect x="427.25" y="333.38" width="8.20" height="10.12" fill="#e8bb1f" stroke="#dcae10" stroke-width="0.7"/>
<line x1="446.65" y1="248.05" x2="446.65" y2="231.61" stroke="#2a2a2a" stroke-width="1.0" />
<line x1="444.45" y1="231.61" x2="448.85" y2="231.61" stroke="#222" stroke-width="1.1" />
<rect x="442.55" y="248.05" width="8.20" height="95.45" fill="#2f4c7f" stroke="#213d72" stroke-width="0.7"/>
<line x1="457.85" y1="280.94" x2="457.85" y2="275.88" stroke="#2a2a2a" stroke-width="1.0" />
<line x1="455.65" y1="275.88" x2="460.05" y2="275.88" stroke="#222" stroke-width="1.1" />
<rect x="453.75" y="280.94" width="8.20" height="62.56" fill="#a6002b" stroke="#950021" stroke-width="0.7"/>
<line x1="468.85" y1="334.99" x2="468.85" y2="334.53" stroke="#2a2a2a" stroke-width="1.0" />
<line x1="466.65" y1="334.53" x2="471.05" y2="334.53" stroke="#222" stroke-width="1.1" />
<rect x="464.75" y="334.99" width="8.20" height="8.51" fill="#e8bb1f" stroke="#dcae10" stroke-width="0.7"/>
<line x1="484.55" y1="341.31" x2="484.55" y2="340.97" stroke="#2a2a2a" stroke-width="1.0" />
<line x1="482.35" y1="340.97" x2="486.75" y2="340.97" stroke="#222" stroke-width="1.1" />
<rect x="480.45" y="341.31" width="8.20" height="2.19" fill="#2f4c7f" stroke="#213d72" stroke-width="0.7"/>
<line x1="495.45" y1="341.20" x2="495.45" y2="340.86" stroke="#2a2a2a" stroke-width="1.0" />
<line x1="493.25" y1="340.86" x2="497.65" y2="340.86" stroke="#222" stroke-width="1.1" />
<rect x="491.35" y="341.20" width="8.20" height="2.30" fill="#a6002b" stroke="#950021" stroke-width="0.7"/>
<line x1="506.05" y1="341.66" x2="506.05" y2="341.31" stroke="#2a2a2a" stroke-width="1.0" />
<line x1="503.85" y1="341.31" x2="508.25" y2="341.31" stroke="#222" stroke-width="1.1" />
<rect x="501.95" y="341.66" width="8.20" height="1.84" fill="#e8bb1f" stroke="#dcae10" stroke-width="0.7"/>
<line x1="325.00" y1="225.90" x2="325.00" y2="344.10" stroke="#222" stroke-width="1.25" />
<line x1="321.70" y1="343.50" x2="512.30" y2="343.50" stroke="#222" stroke-width="1.25" />
<line x1="321.70" y1="343.50" x2="325.00" y2="343.50" stroke="#222" stroke-width="1" />
<text x="319.00" y="346.30" font-size="9.4" text-anchor="end" font-weight="normal" font-style="normal" fill="#1e1e1e" textLength="4.65" lengthAdjust="spacingAndGlyphs" >0</text>
<line x1="321.70" y1="320.50" x2="325.00" y2="320.50" stroke="#222" stroke-width="1" />
<text x="319.00" y="323.30" font-size="9.4" text-anchor="end" font-weight="normal" font-style="normal" fill="#1e1e1e" textLength="9.3" lengthAdjust="spacingAndGlyphs" >20</text>
<line x1="321.70" y1="297.50" x2="325.00" y2="297.50" stroke="#222" stroke-width="1" />
<text x="319.00" y="300.30" font-size="9.4" text-anchor="end" font-weight="normal" font-style="normal" fill="#1e1e1e" textLength="9.3" lengthAdjust="spacingAndGlyphs" >40</text>
<line x1="321.70" y1="274.50" x2="325.00" y2="274.50" stroke="#222" stroke-width="1" />
<text x="319.00" y="277.30" font-size="9.4" text-anchor="end" font-weight="normal" font-style="normal" fill="#1e1e1e" textLength="9.3" lengthAdjust="spacingAndGlyphs" >60</text>
<line x1="321.70" y1="251.50" x2="325.00" y2="251.50" stroke="#222" stroke-width="1" />
<text x="319.00" y="254.30" font-size="9.4" text-anchor="end" font-weight="normal" font-style="normal" fill="#1e1e1e" textLength="9.3" lengthAdjust="spacingAndGlyphs" >80</text>
<line x1="321.70" y1="228.50" x2="325.00" y2="228.50" stroke="#222" stroke-width="1" />
<text x="319.00" y="231.30" font-size="9.4" text-anchor="end" font-weight="normal" font-style="normal" fill="#1e1e1e" textLength="13.95" lengthAdjust="spacingAndGlyphs" >100</text>
<line x1="344.95" y1="343.50" x2="344.95" y2="346.30" stroke="#222" stroke-width="1" />
<text x="344.95" y="357.10" font-size="8.4" text-anchor="middle" font-weight="normal" font-style="normal" fill="#1e1e1e" >0.05</text>
<line x1="382.75" y1="343.50" x2="382.75" y2="346.30" stroke="#222" stroke-width="1" />
<text x="382.75" y="357.10" font-size="8.4" text-anchor="middle" font-weight="normal" font-style="normal" fill="#1e1e1e" >0.1</text>
<line x1="420.05" y1="343.50" x2="420.05" y2="346.30" stroke="#222" stroke-width="1" />
<text x="420.05" y="357.10" font-size="8.4" text-anchor="middle" font-weight="normal" font-style="normal" fill="#1e1e1e" >0.2</text>
<line x1="457.85" y1="343.50" x2="457.85" y2="346.30" stroke="#222" stroke-width="1" />
<text x="457.85" y="357.10" font-size="8.4" text-anchor="middle" font-weight="normal" font-style="normal" fill="#1e1e1e" >0.4</text>
<line x1="495.45" y1="343.50" x2="495.45" y2="346.30" stroke="#222" stroke-width="1" />
<text x="495.45" y="357.10" font-size="8.4" text-anchor="middle" font-weight="normal" font-style="normal" fill="#1e1e1e" >Veh.</text>
<line x1="329.20" y1="360.80" x2="473.80" y2="360.80" stroke="#222" stroke-width="1.0" />
<text x="401.80" y="369.30" font-size="8.8" text-anchor="middle" font-weight="normal" font-style="normal" fill="#1e1e1e" textLength="66.5" lengthAdjust="spacingAndGlyphs" >Convulxin (μg/ml)</text>
<g transform="translate(299.7,284.1) rotate(-90)"><text x="0.00" y="0.00" font-size="10.4" text-anchor="middle" font-weight="normal" font-style="normal" fill="#1e1e1e" textLength="114.5" lengthAdjust="spacingAndGlyphs" stroke="#1e1e1e" stroke-width="0.18">P-selectin expression (MFI x100)</text></g>
<line x1="63.45" y1="427.28" x2="63.45" y2="414.52" stroke="#2a2a2a" stroke-width="1.0" />
<line x1="61.25" y1="414.52" x2="65.65" y2="414.52" stroke="#222" stroke-width="1.1" />
<rect x="59.05" y="427.28" width="8.80" height="98.02" fill="#2f4c7f" stroke="#213d72" stroke-width="0.7"/>
<line x1="75.35" y1="490.79" x2="75.35" y2="485.57" stroke="#2a2a2a" stroke-width="1.0" />
<line x1="73.15" y1="485.57" x2="77.55" y2="485.57" stroke="#222" stroke-width="1.1" />
<rect x="70.95" y="490.79" width="8.80" height="34.51" fill="#a6002b" stroke="#950021" stroke-width="0.7"/>
<line x1="87.35" y1="516.31" x2="87.35" y2="513.41" stroke="#2a2a2a" stroke-width="1.0" />
<line x1="85.15" y1="513.41" x2="89.55" y2="513.41" stroke="#222" stroke-width="1.1" />
<rect x="82.95" y="516.31" width="8.80" height="8.99" fill="#e8bb1f" stroke="#dcae10" stroke-width="0.7"/>
<line x1="105.35" y1="523.27" x2="105.35" y2="521.53" stroke="#2a2a2a" stroke-width="1.0" />
<line x1="103.15" y1="521.53" x2="107.55" y2="521.53" stroke="#222" stroke-width="1.1" />
<rect x="100.95" y="523.27" width="8.80" height="2.03" fill="#2f4c7f" stroke="#213d72" stroke-width="0.7"/>
<line x1="117.15" y1="524.14" x2="117.15" y2="523.56" stroke="#2a2a2a" stroke-width="1.0" />
<line x1="114.95" y1="523.56" x2="119.35" y2="523.56" stroke="#222" stroke-width="1.1" />
<rect x="112.75" y="524.14" width="8.80" height="1.16" fill="#a6002b" stroke="#950021" stroke-width="0.7"/>
<line x1="129.05" y1="524.14" x2="129.05" y2="523.27" stroke="#2a2a2a" stroke-width="1.0" />
<line x1="126.85" y1="523.27" x2="131.25" y2="523.27" stroke="#222" stroke-width="1.1" />
<rect x="124.65" y="524.14" width="8.80" height="1.16" fill="#e8bb1f" stroke="#dcae10" stroke-width="0.7"/>
<line x1="53.30" y1="407.10" x2="53.30" y2="525.90" stroke="#222" stroke-width="1.25" />
<line x1="50.00" y1="525.30" x2="136.30" y2="525.30" stroke="#222" stroke-width="1.25" />
<line x1="50.00" y1="525.30" x2="53.30" y2="525.30" stroke="#222" stroke-width="1" />
<text x="46.90" y="528.10" font-size="9.4" text-anchor="end" font-weight="normal" font-style="normal" fill="#1e1e1e" textLength="4.65" lengthAdjust="spacingAndGlyphs" >0</text>
<line x1="50.00" y1="496.30" x2="53.30" y2="496.30" stroke="#222" stroke-width="1" />
<text x="46.90" y="499.10" font-size="9.4" text-anchor="end" font-weight="normal" font-style="normal" fill="#1e1e1e" textLength="9.3" lengthAdjust="spacingAndGlyphs" >10</text>
<line x1="50.00" y1="467.30" x2="53.30" y2="467.30" stroke="#222" stroke-width="1" />
<text x="46.90" y="470.10" font-size="9.4" text-anchor="end" font-weight="normal" font-style="normal" fill="#1e1e1e" textLength="9.3" lengthAdjust="spacingAndGlyphs" >20</text>
<line x1="50.00" y1="438.30" x2="53.30" y2="438.30" stroke="#222" stroke-width="1" />
<text x="46.90" y="441.10" font-size="9.4" text-anchor="end" font-weight="normal" font-style="normal" fill="#1e1e1e" textLength="9.3" lengthAdjust="spacingAndGlyphs" >30</text>
<line x1="50.00" y1="409.30" x2="53.30" y2="409.30" stroke="#222" stroke-width="1" />
<text x="46.90" y="412.10" font-size="9.4" text-anchor="end" font-weight="normal" font-style="normal" fill="#1e1e1e" textLength="9.3" lengthAdjust="spacingAndGlyphs" >40</text>
<line x1="75.35" y1="525.30" x2="75.35" y2="528.10" stroke="#222" stroke-width="1" />
<line x1="117.15" y1="525.30" x2="117.15" y2="528.10" stroke="#222" stroke-width="1" />
<text x="75.40" y="538.60" font-size="8.6" text-anchor="middle" font-weight="normal" font-style="normal" fill="#1e1e1e" textLength="47.6" lengthAdjust="spacingAndGlyphs" >Dual agonist</text>
<text x="116.60" y="538.60" font-size="8.6" text-anchor="middle" font-weight="normal" font-style="normal" fill="#1e1e1e" textLength="15.8" lengthAdjust="spacingAndGlyphs" >Veh.</text>
<g transform="translate(33.4,465.8) rotate(-90)"><text x="0.00" y="0.00" font-size="10.2" text-anchor="middle" font-weight="normal" font-style="normal" fill="#1e1e1e" textLength="68" lengthAdjust="spacingAndGlyphs" stroke="#1e1e1e" stroke-width="0.18">PS-positive cells (%)</text></g>
<rect x="145.6" y="441.9" width="8.2" height="8.8" fill="#2f4c7f"/>
<text x="157.00" y="449.40" font-size="8.7" text-anchor="start" font-weight="normal" font-style="italic" fill="#1e1e1e" textLength="26.6" lengthAdjust="spacingAndGlyphs" >Control</text>
<rect x="145.6" y="463.2" width="8.2" height="8.8" fill="#a6002b"/>
<text x="157.00" y="470.70" font-size="8.7" text-anchor="start" font-weight="normal" font-style="italic" fill="#1e1e1e" textLength="67" lengthAdjust="spacingAndGlyphs" >Tln1-mR35E,R118E</text>
<rect x="145.6" y="484.5" width="8.2" height="8.8" fill="#e8bb1f"/>
<text x="157.00" y="492.00" font-size="8.7" text-anchor="start" font-weight="normal" font-style="italic" fill="#1e1e1e" textLength="50" lengthAdjust="spacingAndGlyphs" >Rap1a/b-mKO</text>
<line x1="72.80" y1="317.20" x2="84.80" y2="317.20" stroke="#2a2a2a" stroke-width="1.15" />
<text x="78.80" y="313.60" font-size="7.9" text-anchor="middle" font-weight="normal" font-style="normal" fill="#262626" textLength="8.1" lengthAdjust="spacingAndGlyphs" >ns</text>
<line x1="110.20" y1="291.30" x2="122.00" y2="291.30" stroke="#2a2a2a" stroke-width="1.15" />
<text x="116.20" y="288.20" font-size="7.9" text-anchor="middle" font-weight="normal" font-style="normal" fill="#262626" textLength="8.1" lengthAdjust="spacingAndGlyphs" >ns</text>
<line x1="148.00" y1="229.60" x2="160.10" y2="229.60" stroke="#2a2a2a" stroke-width="1.15" />
<text x="154.10" y="229.80" font-size="8.4" text-anchor="middle" font-weight="bold" font-style="normal" fill="#1a1a1a" textLength="10.35" lengthAdjust="spacingAndGlyphs" >***</text>
<line x1="186.00" y1="219.50" x2="198.00" y2="219.50" stroke="#2a2a2a" stroke-width="1.15" />
<text x="192.10" y="216.60" font-size="7.9" text-anchor="middle" font-weight="normal" font-style="normal" fill="#262626" textLength="8.1" lengthAdjust="spacingAndGlyphs" >ns</text>
<text x="73.30" y="332.00" font-size="7.9" text-anchor="middle" font-weight="normal" font-style="normal" fill="#262626" textLength="8.1" lengthAdjust="spacingAndGlyphs" >ns</text>
<text x="84.40" y="335.50" font-size="7.9" text-anchor="middle" font-weight="normal" font-style="normal" fill="#262626" textLength="8.1" lengthAdjust="spacingAndGlyphs" >ns</text>
<text x="110.70" y="308.00" font-size="7.9" text-anchor="middle" font-weight="normal" font-style="normal" fill="#262626" textLength="8.1" lengthAdjust="spacingAndGlyphs" >ns</text>
<text x="122.10" y="333.00" font-size="7.9" text-anchor="middle" font-weight="normal" font-style="normal" fill="#262626" textLength="8.1" lengthAdjust="spacingAndGlyphs" >ns</text>
<text x="148.50" y="247.60" font-size="7.9" text-anchor="middle" font-weight="normal" font-style="normal" fill="#262626" textLength="8.1" lengthAdjust="spacingAndGlyphs" >ns</text>
<text x="186.40" y="233.10" font-size="7.9" text-anchor="middle" font-weight="normal" font-style="normal" fill="#262626" textLength="8.1" lengthAdjust="spacingAndGlyphs" >ns</text>
<text x="197.50" y="248.10" font-size="7.9" text-anchor="middle" font-weight="normal" font-style="normal" fill="#262626" textLength="8.1" lengthAdjust="spacingAndGlyphs" >ns</text>
<text x="223.70" y="337.00" font-size="7.9" text-anchor="middle" font-weight="normal" font-style="normal" fill="#262626" textLength="8.1" lengthAdjust="spacingAndGlyphs" >ns</text>
<text x="234.80" y="337.00" font-size="7.9" text-anchor="middle" font-weight="normal" font-style="normal" fill="#262626" textLength="8.1" lengthAdjust="spacingAndGlyphs" >ns</text>
<text x="159.70" y="301.10" font-size="8.4" text-anchor="middle" font-weight="bold" font-style="normal" fill="#1a1a1a" textLength="10.35" lengthAdjust="spacingAndGlyphs" >***</text>
<line x1="344.00" y1="304.20" x2="355.90" y2="304.20" stroke="#2a2a2a" stroke-width="1.15" />
<text x="350.00" y="300.80" font-size="7.9" text-anchor="middle" font-weight="normal" font-style="normal" fill="#262626" textLength="8.1" lengthAdjust="spacingAndGlyphs" >ns</text>
<line x1="381.50" y1="290.50" x2="393.90" y2="290.50" stroke="#2a2a2a" stroke-width="1.15" />
<text x="387.60" y="291.30" font-size="8.4" text-anchor="middle" font-weight="bold" font-style="normal" fill="#1a1a1a" textLength="6.9" lengthAdjust="spacingAndGlyphs" >**</text>
<line x1="418.80" y1="259.20" x2="430.70" y2="259.20" stroke="#2a2a2a" stroke-width="1.15" />
<text x="425.00" y="258.80" font-size="8.4" text-anchor="middle" font-weight="bold" font-style="normal" fill="#1a1a1a" textLength="10.35" lengthAdjust="spacingAndGlyphs" >***</text>
<line x1="456.50" y1="253.30" x2="468.30" y2="253.30" stroke="#2a2a2a" stroke-width="1.15" />
<text x="462.40" y="253.10" font-size="8.4" text-anchor="middle" font-weight="bold" font-style="normal" fill="#1a1a1a" textLength="10.35" lengthAdjust="spacingAndGlyphs" >***</text>
<text x="344.80" y="319.70" font-size="7.9" text-anchor="middle" font-weight="normal" font-style="normal" fill="#262626" textLength="8.1" lengthAdjust="spacingAndGlyphs" >ns</text>
<text x="356.00" y="336.10" font-size="7.9" text-anchor="middle" font-weight="normal" font-style="normal" fill="#262626" textLength="8.1" lengthAdjust="spacingAndGlyphs" >ns</text>
<text x="494.80" y="337.80" font-size="7.9" text-anchor="middle" font-weight="normal" font-style="normal" fill="#262626" textLength="8.1" lengthAdjust="spacingAndGlyphs" >ns</text>
<text x="505.90" y="337.80" font-size="7.9" text-anchor="middle" font-weight="normal" font-style="normal" fill="#262626" textLength="8.1" lengthAdjust="spacingAndGlyphs" >ns</text>
<text x="382.40" y="310.60" font-size="8.4" text-anchor="middle" font-weight="bold" font-style="normal" fill="#1a1a1a" textLength="10.35" lengthAdjust="spacingAndGlyphs" >***</text>
<text x="393.30" y="336.60" font-size="8.4" text-anchor="middle" font-weight="bold" font-style="normal" fill="#1a1a1a" textLength="10.35" lengthAdjust="spacingAndGlyphs" >***</text>
<text x="419.70" y="284.60" font-size="8.4" text-anchor="middle" font-weight="bold" font-style="normal" fill="#1a1a1a" textLength="6.9" lengthAdjust="spacingAndGlyphs" >**</text>
<text x="431.10" y="331.40" font-size="8.4" text-anchor="middle" font-weight="bold" font-style="normal" fill="#1a1a1a" textLength="10.35" lengthAdjust="spacingAndGlyphs" >***</text>
<text x="457.40" y="276.20" font-size="8.4" text-anchor="middle" font-weight="bold" font-style="normal" fill="#1a1a1a" textLength="6.9" lengthAdjust="spacingAndGlyphs" >**</text>
<text x="468.50" y="334.40" font-size="8.4" text-anchor="middle" font-weight="bold" font-style="normal" fill="#1a1a1a" textLength="10.35" lengthAdjust="spacingAndGlyphs" >***</text>
<line x1="75.50" y1="468.30" x2="87.60" y2="468.30" stroke="#2a2a2a" stroke-width="1.15" />
<text x="81.60" y="468.50" font-size="8.4" text-anchor="middle" font-weight="bold" font-style="normal" fill="#1a1a1a" textLength="6.9" lengthAdjust="spacingAndGlyphs" >**</text>
<text x="75.30" y="485.50" font-size="8.4" text-anchor="middle" font-weight="bold" font-style="normal" fill="#1a1a1a" textLength="10.35" lengthAdjust="spacingAndGlyphs" >***</text>
<text x="87.60" y="513.70" font-size="8.4" text-anchor="middle" font-weight="bold" font-style="normal" fill="#1a1a1a" textLength="10.35" lengthAdjust="spacingAndGlyphs" >***</text>
<rect x="0.5" y="0.5" width="519" height="547" fill="none" stroke="#000" stroke-width="1.3"/>
</svg>
</body></html>
